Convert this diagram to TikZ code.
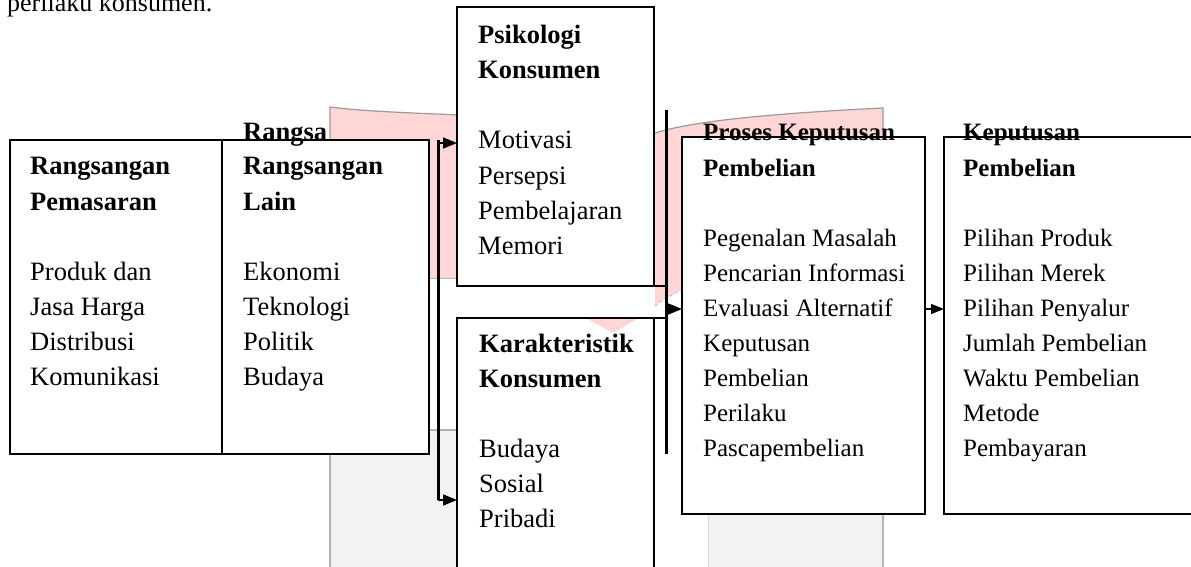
\documentclass[tikz,border=0pt]{standalone}
\usepackage{fontspec}
\setmainfont{Liberation Serif}
\usetikzlibrary{arrows.meta}
\definecolor{wmpink}{HTML}{FFD6D6}
\definecolor{wmgrey}{HTML}{F2F2F2}
\definecolor{wmline}{HTML}{B4B4B4}
\definecolor{wmedge}{HTML}{9A9A9A}
\begin{document}
\begin{tikzpicture}[x=1pt,y=-1pt,
  txtL/.style={anchor=base west, inner sep=0pt, font=\fontsize{26.5}{32}\selectfont},
  hdL/.style={anchor=base west, inner sep=0pt, font=\fontsize{26.5}{32}\selectfont\bfseries},
  txtR/.style={anchor=base west, inner sep=0pt, font=\fontsize{25}{30}\selectfont},
  hdR/.style={anchor=base west, inner sep=0pt, font=\fontsize{25}{30}\selectfont\bfseries},
  boxthick/.style={draw, line width=2pt, fill=white, anchor=north west, inner sep=0pt, outer sep=0pt},
  boxthin/.style={draw, line width=1.3pt, fill=white, anchor=north west, inner sep=0pt, outer sep=0pt},
  barline/.style={line width=3pt},
  stub/.style={line width=2pt},
  arr/.style={line width=1.5pt, -{Triangle[length=14pt,width=11pt]}},
  arrsmall/.style={line width=1.3pt, -{Triangle[length=13pt,width=10pt]}},
]
\useasboundingbox (0,0) rectangle (1191,567);
\clip (0,0) rectangle (1191,567);

% watermark background
\fill[wmpink] (330,107) .. controls (370,112) and (420,113) .. (457,115) -- (655,133)
  .. controls (690,122) and (760,114) .. (883,108) -- (883,250) -- (683,289)
  .. controls (672,295) and (662,300) .. (655,306) -- (655,278) -- (330,278) -- cycle;
\draw[wmedge, line width=1.2pt] (330,140) -- (330,107) .. controls (370,112) and (420,113) .. (457,115);
\draw[wmedge, line width=1.2pt] (655,133) .. controls (690,122) and (760,114) .. (883,108) -- (883,137);
\draw[wmline, line width=1pt] (330,278) -- (457,278);
\draw[wmline, dashed, line width=0.8pt] (683,289) .. controls (672,295) and (662,300) .. (655,306);
\fill[wmgrey] (330,430) rectangle (457,567);
\draw[wmline, line width=1.5pt] (330,567) -- (330,430) -- (457,430);
\fill[wmgrey] (708,514) rectangle (883,567);
\draw[wmline, line width=1.5pt] (883,514) -- (883,567);
\draw[wmline!50, line width=1pt] (708,514) -- (708,567);

% intro text
\node[txtL, font=\fontsize{26}{32}\selectfont] (intro) at (7,12) {perilaku konsumen.};

% boxes
\node[boxthick, minimum width=419pt, minimum height=314pt] (rang) at (10,140) {};
\draw[line width=2pt] (222,140) -- (222,454);
\node[boxthick, minimum width=197pt, minimum height=279pt] (psi) at (457,7) {};
\node[boxthick, minimum width=197pt, minimum height=300pt] (kar) at (457,318) {};
\fill[wmpink] (588,319) -- (637,319) -- (613,333) -- cycle;
\node[boxthin, minimum width=243pt, minimum height=377pt] (proses) at (682,137) {};
\node[boxthin, minimum width=300pt, minimum height=377pt] (kep) at (944,137) {};

% texts: Rangsangan Pemasaran
\node[hdL] (hRang) at (243,140) {Rangsa};
\node[hdL] (a1) at (30,175) {Rangsangan};
\node[hdL] (a2) at (30,210) {Pemasaran};
\node[txtL] (a3) at (30,280) {Produk dan};
\node[txtL] (a4) at (30,315) {Jasa Harga};
\node[txtL] (a5) at (30,350) {Distribusi};
\node[txtL] (a6) at (30,385) {Komunikasi};
% Rangsangan Lain
\node[hdL] (b1) at (243,175) {Rangsangan};
\node[hdL] (b2) at (243,210) {Lain};
\node[txtL] (b3) at (243,280) {Ekonomi};
\node[txtL] (b4) at (243,315) {Teknologi};
\node[txtL] (b5) at (243,350) {Politik};
\node[txtL] (b6) at (243,385) {Budaya};
% Psikologi
\node[hdL] (c1) at (478,44) {Psikologi};
\node[hdL] (c2) at (478,79) {Konsumen};
\node[txtL] (c3) at (478,149) {Motivasi};
\node[txtL] (c4) at (478,184) {Persepsi};
\node[txtL] (c5) at (478,219) {Pembelajaran};
\node[txtL] (c6) at (478,254) {Memori};
% Karakteristik
\node[hdL] (d1) at (479,352) {Karakteristik};
\node[hdL] (d2) at (479,387) {Konsumen};
\node[txtL] (d3) at (479,457) {Budaya};
\node[txtL] (d4) at (479,492) {Sosial};
\node[txtL] (d5) at (479,527) {Pribadi};
% Proses
\node[hdR] (e1) at (703,141) {Proses Keputusan};
\node[hdR] (e2) at (703,176) {Pembelian};
\node[txtR] (e3) at (703,246) {Pegenalan Masalah};
\node[txtR] (e4) at (703,281) {Pencarian Informasi};
\node[txtR] (e5) at (703,316) {Evaluasi Alternatif};
\node[txtR] (e6) at (703,351) {Keputusan};
\node[txtR] (e7) at (703,386) {Pembelian};
\node[txtR] (e8) at (703,421) {Perilaku};
\node[txtR] (e9) at (703,456) {Pascapembelian};
% Keputusan
\node[hdR] (f1) at (963,141) {Keputusan};
\node[hdR] (f2) at (963,176) {Pembelian};
\node[txtR] (f3) at (963,246) {Pilihan Produk};
\node[txtR] (f4) at (963,281) {Pilihan Merek};
\node[txtR] (f5) at (963,316) {Pilihan Penyalur};
\node[txtR] (f6) at (963,351) {Jumlah Pembelian};
\node[txtR] (f7) at (963,386) {Waktu Pembelian};
\node[txtR] (f8) at (963,421) {Metode};
\node[txtR] (f9) at (963,456) {Pembayaran};

% connectors
\coordinate (lbTop) at (438,140);
\coordinate (lbBot) at (438,500);
\draw[barline] (lbTop) -- (lbBot);
\coordinate (a1s) at (438,143);
\draw[arr] (a1s) -- (a1s -| psi.west);
\draw[arr] (lbBot) -- (lbBot -| kar.west);

\coordinate (rbTop) at (666,110);
\coordinate (rbBot) at (666,454);
\draw[barline] (rbTop) -- (rbBot);
\draw[stub] (psi.south east) -- (psi.south east -| rbTop);
\draw[stub] (kar.north east) -- (kar.north east -| rbTop);
\coordinate (a3s) at (666,309);
\draw[arr] (a3s) -- (a3s -| proses.west);
\draw[arrsmall] (proses.east |- a3s) -- (kep.west |- a3s);
\end{tikzpicture}
\end{document}
